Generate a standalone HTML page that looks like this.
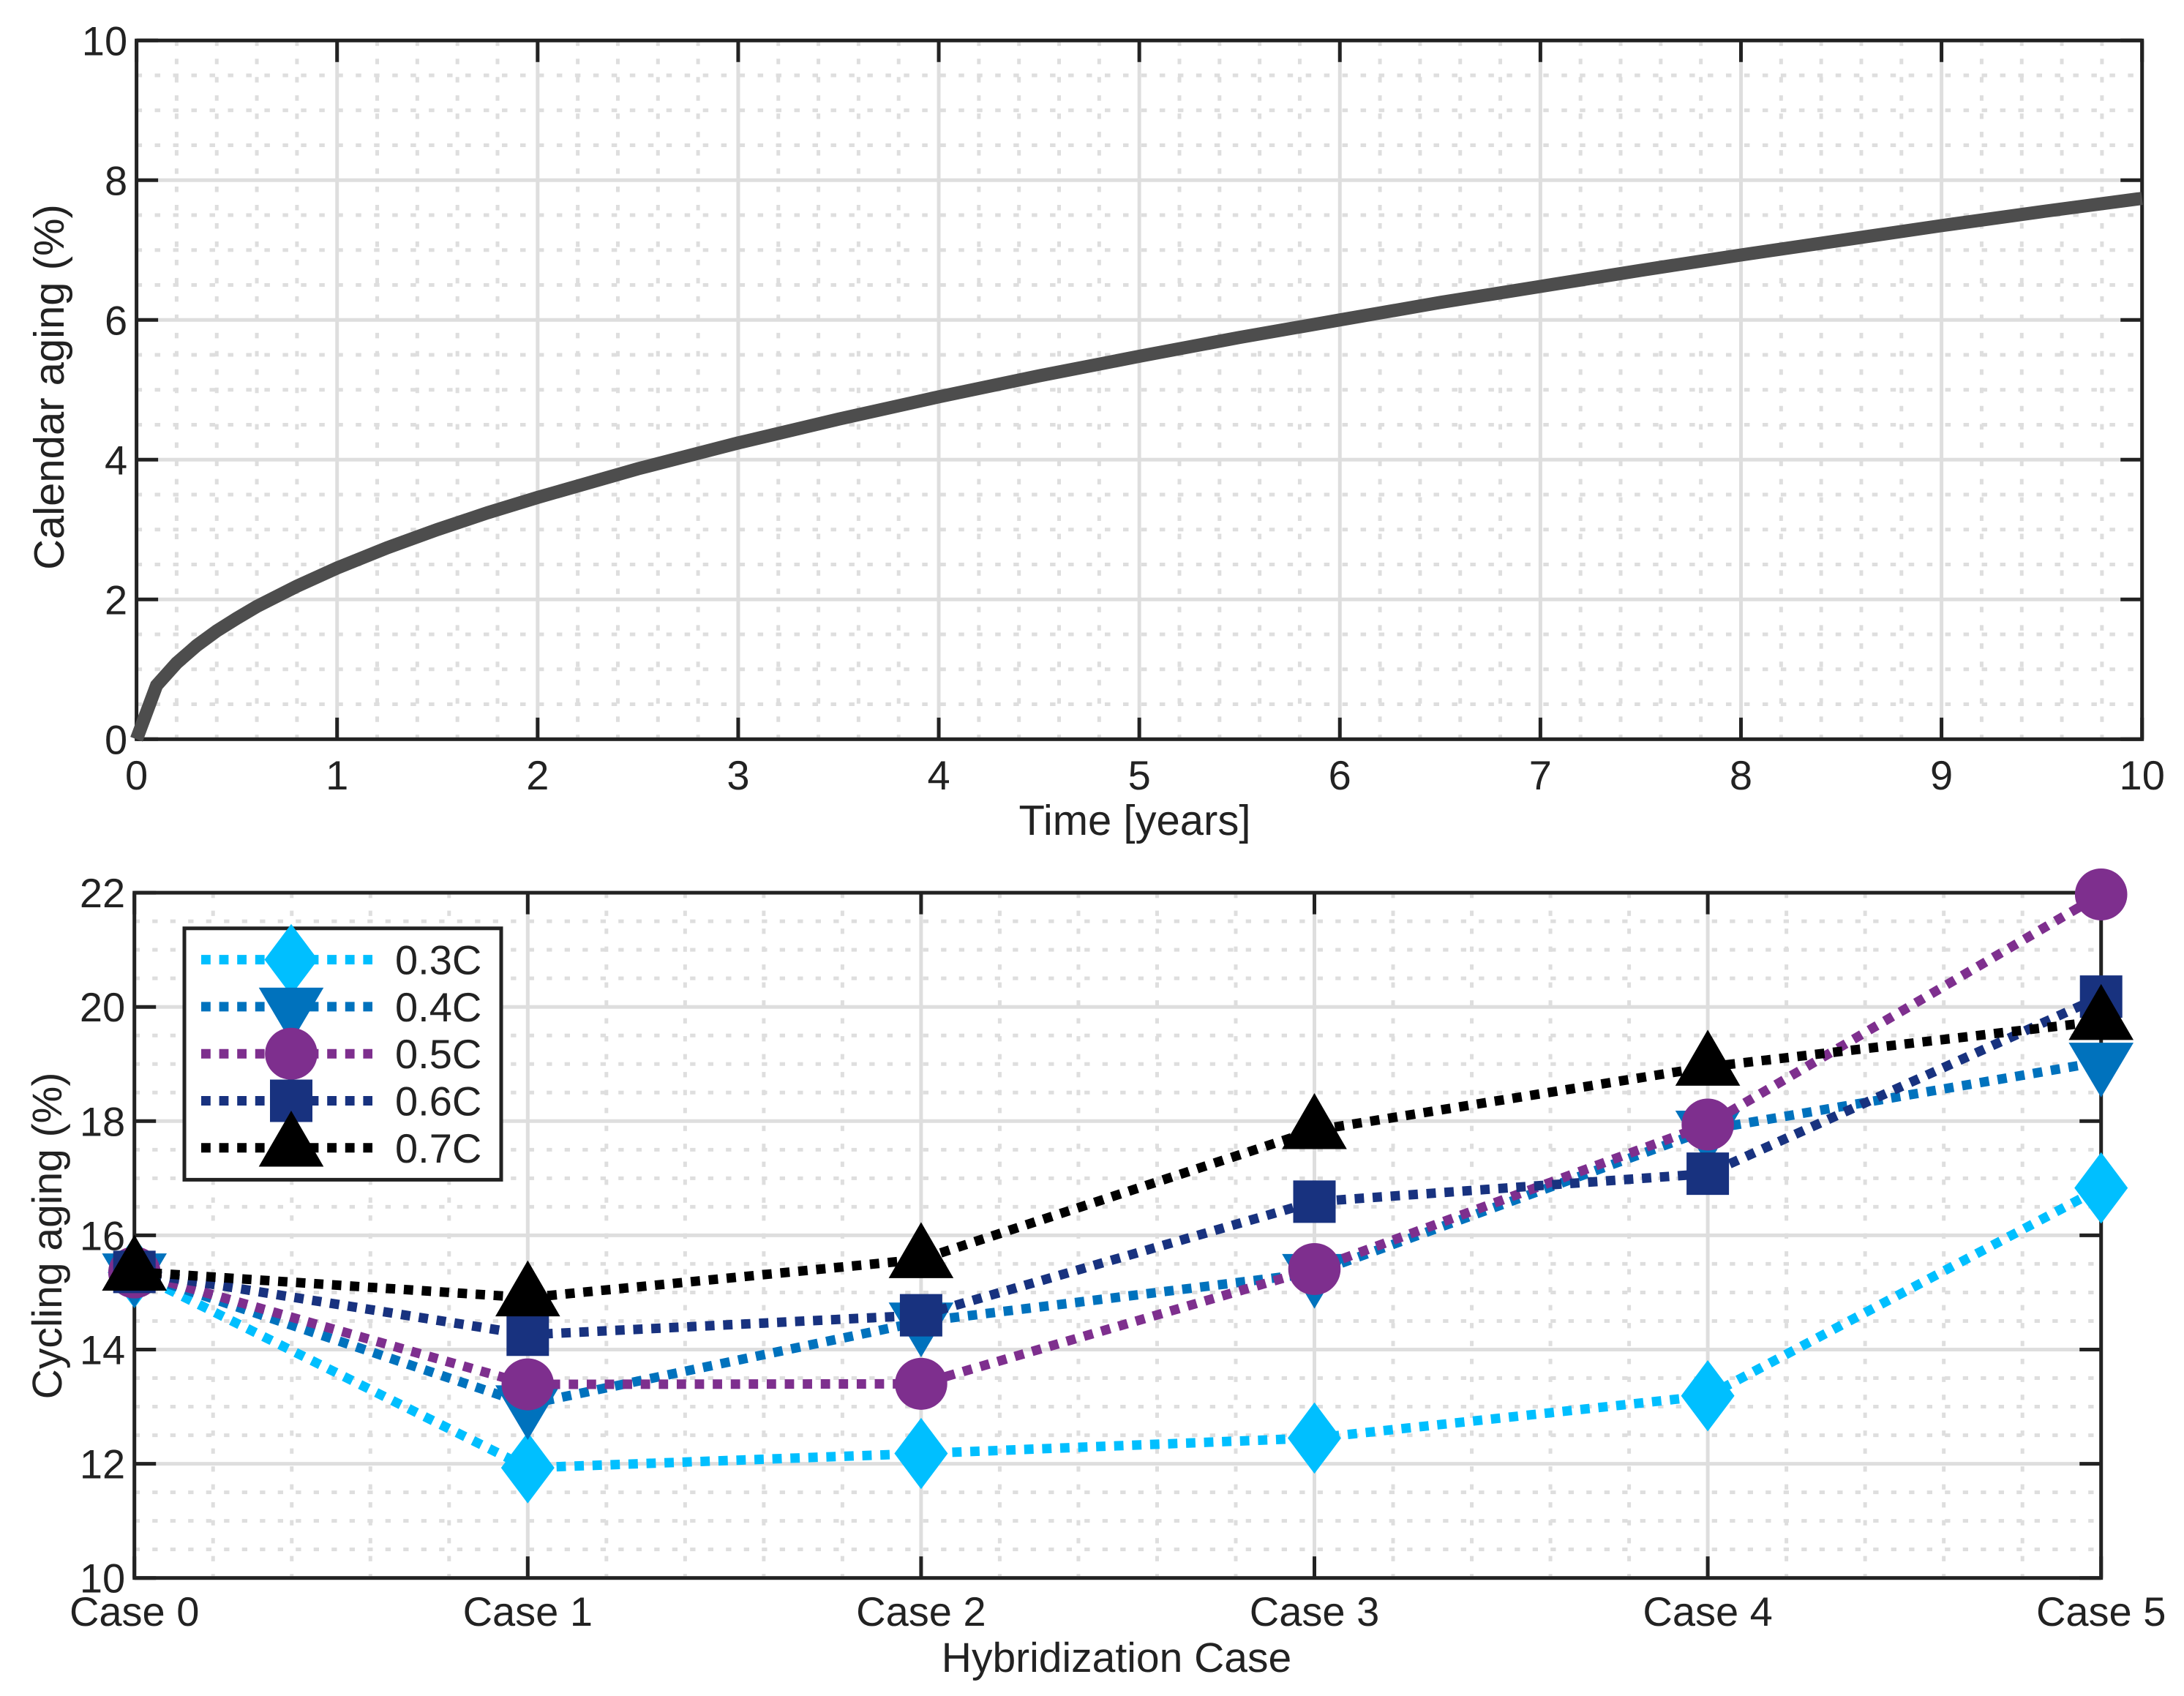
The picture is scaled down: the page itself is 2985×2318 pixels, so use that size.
<!DOCTYPE html>
<html lang="en">
<head>
<meta charset="utf-8">
<title>Calendar and cycling aging</title>
<style>
html,body{margin:0;padding:0;background:#fff;}
svg{display:block;}
text{font-family:"Liberation Sans",Arial,sans-serif;fill:#222;text-rendering:geometricPrecision;}
.tick{font-size:56px;}
.label{font-size:58px;}
.label-small{font-size:57px;}
</style>
</head>
<body>
<svg id="chart" xmlns="http://www.w3.org/2000/svg" width="2985" height="2318" viewBox="0 0 2985 2318">
  <rect x="0" y="0" width="2985" height="2318" fill="#fff"/>
  <g id="top-axes"></g>
  <g id="bottom-axes"></g>
  <text class="label" x="1551" y="1141" text-anchor="middle">Time [years]</text>
  <text class="label" transform="translate(87 529) rotate(-90)" text-anchor="middle">Calendar aging (%)</text>
  <text class="label-small" x="1526" y="2285" text-anchor="middle">Hybridization Case</text>
  <text class="label-small" transform="translate(84 1689) rotate(-90)" text-anchor="middle">Cycling aging (%)</text>
</svg>
<script>
// ---- Chart data ----
const timeYears = [0, 0.1, 0.2, 0.3, 0.4, 0.5, 0.6, 0.8, 1, 1.25, 1.5, 1.75, 2, 2.5, 3, 3.5, 4, 4.5, 5, 5.5, 6, 6.5, 7, 7.5, 8, 8.5, 9, 9.5, 10];
const calendarAging = [0, 0.77, 1.09, 1.34, 1.55, 1.73, 1.90, 2.19, 2.45, 2.74, 3.00, 3.24, 3.46, 3.87, 4.24, 4.58, 4.90, 5.20, 5.48, 5.75, 6.00, 6.25, 6.48, 6.71, 6.93, 7.14, 7.35, 7.55, 7.74];
const topXTicks = [0, 1, 2, 3, 4, 5, 6, 7, 8, 9, 10];
const topYTicks = [0, 2, 4, 6, 8, 10];

const caseLabels = ["Case 0", "Case 1", "Case 2", "Case 3", "Case 4", "Case 5"];
const bottomYTicks = [10, 12, 14, 16, 18, 20, 22];
const seriesNames = ["0.3C", "0.4C", "0.5C", "0.6C", "0.7C"];
const seriesColors = ["#00BFFF", "#0072BD", "#7E2F8E", "#18327F", "#000000"];
const seriesMarkers = ["diamond", "down", "circle", "square", "up"];
const aging03C = [15.35, 11.93, 12.18, 12.45, 13.19, 16.83];
const aging04C = [15.35, 13.04, 14.49, 15.34, 17.85, 19.04];
const aging05C = [15.35, 13.39, 13.40, 15.41, 17.94, 21.97];
const aging06C = [15.36, 14.26, 14.60, 16.59, 17.08, 20.18];
const aging07C = [15.36, 14.91, 15.58, 17.84, 18.95, 19.75];

// ---- Helpers ----
const NS = "http://www.w3.org/2000/svg";
const AXIS = "#222222", GRID = "#dedede";
function node(parent, tag, attrs) {
  const el = document.createElementNS(NS, tag);
  for (const k in attrs) el.setAttribute(k, attrs[k]);
  parent.appendChild(el);
  return el;
}
function hline(g, x1, x2, y, color, w, dash) {
  const a = {x1: x1, x2: x2, y1: y, y2: y, stroke: color, "stroke-width": w};
  if (dash) a["stroke-dasharray"] = dash;
  return node(g, "line", a);
}
function vline(g, x, y1, y2, color, w, dash) {
  const a = {x1: x, x2: x, y1: y1, y2: y2, stroke: color, "stroke-width": w};
  if (dash) a["stroke-dasharray"] = dash;
  return node(g, "line", a);
}
function marker(g, kind, cx, cy, color) {
  let el;
  if (kind === "circle") {
    el = node(g, "ellipse", {cx: cx, cy: cy, rx: 35.8, ry: 35.5, fill: color});
  } else {
    let pts;
    if (kind === "diamond") pts = [[0,-48.7],[36.5,0],[0,48.7],[-36.5,0]];
    if (kind === "down") pts = [[-44.3,-26],[44.3,-26],[0,48.7]];
    if (kind === "up") pts = [[-44.3,25.7],[44.3,25.7],[0,-50.8]];
    if (kind === "square") pts = [[-29,-29],[29,-29],[29,29],[-29,29]];
    el = node(g, "polygon", {points: pts.map(p => (cx + p[0]) + "," + (cy + p[1])).join(" "), fill: color});
  }
  return el;
}

// ---- Axes frame, grid, ticks ----
function drawAxes(g, opt) {
  const L = opt.left, R = opt.right, T = opt.top, B = opt.bottom;
  const minorDash = opt.dash;
  // minor grid
  opt.xMinor.forEach(function (v) {
    const el = vline(g, opt.x(v), T, B, GRID, 5, minorDash);
    
    
  });
  opt.yMinor.forEach(function (v) {
    const el = hline(g, L, R, opt.y(v), GRID, 5, minorDash);
    
    
  });
  // major grid
  opt.xTicks.forEach(function (v) {
    const el = vline(g, opt.x(v), T, B, GRID, 5);
    
    
  });
  opt.yTicks.forEach(function (v) {
    const el = hline(g, L, R, opt.y(v), GRID, 5);
    
    
  });
  // ticks
  const len = 29.5;
  opt.xTicks.forEach(function (v) {
    const px = opt.x(v);
    const a = vline(g, px, B, B - len, AXIS, 5);
    
    
    const b = vline(g, px, T, T + len, AXIS, 5);
    
    
  });
  opt.yTicks.forEach(function (v) {
    const py = opt.y(v);
    const a = hline(g, L, L + len, py, AXIS, 5);
    
    
    const b = hline(g, R, R - len, py, AXIS, 5);
    
    
  });
  // frame
  const frame = node(g, "rect", {x: L, y: T, width: R - L, height: B - T, fill: "none", stroke: AXIS, "stroke-width": 5});
  
  
  // tick labels
  opt.xTicks.forEach(function (v, i) {
    const t = node(g, "text", {class: "tick", x: opt.x(v), y: opt.xLabelY, "text-anchor": "middle"});
    t.textContent = opt.xLabels[i];
    
    
  });
  opt.yTicks.forEach(function (v) {
    const t = node(g, "text", {class: "tick", x: L - 12.5, y: opt.y(v) + 20, "text-anchor": "end"});
    t.textContent = String(v);
    
    
  });
}

// ---- Top chart ----
const topG = document.getElementById("top-axes");
const xTop = v => 186.6 + (v / 10) * 2741.1;
const yTop = v => 1010.3 - (v / 10) * 955;
const topXMinor = [], topYMinor = [];
for (let i = 1; i < 50; i++) if (i % 5) topXMinor.push(i / 5);
for (let i = 1; i < 20; i++) if (i % 4) topYMinor.push(i / 2);
drawAxes(topG, {
  left: 186.6, right: 2927.7, top: 55.3, bottom: 1010.3,
  x: xTop, y: yTop, xTicks: topXTicks, yTicks: topYTicks,
  xLabels: topXTicks.map(String), xMinor: topXMinor, yMinor: topYMinor,
  dash: "7.5 17.47", xLabelY: 1079
});
const curve = node(topG, "polyline", {
  points: timeYears.map((t, i) => xTop(t) + "," + yTop(calendarAging[i])).join(" "),
  fill: "none", stroke: "#4d4d4d", "stroke-width": 18, "stroke-linejoin": "miter"
});



// ---- Bottom chart ----
const botG = document.getElementById("bottom-axes");
const xBot = v => 183.7 + v * 537.6;
const yBot = v => 2156.7 - (v - 10) * 78.05;
const caseIndex = caseLabels.map((_, i) => i);
const botXMinor = [], botYMinor = [];
for (let i = 1; i < 25; i++) if (i % 5) botXMinor.push(i / 5);
for (let i = 1; i < 24; i++) if (i % 4) botYMinor.push(10 + i / 2);
drawAxes(botG, {
  left: 183.7, right: 2871.7, top: 1220.1, bottom: 2156.7,
  x: xBot, y: yBot, xTicks: caseIndex, yTicks: bottomYTicks,
  xLabels: caseLabels, xMinor: botXMinor, yMinor: botYMinor,
  dash: "7.3 17.2", xLabelY: 2222
});

const seriesValues = [aging03C, aging04C, aging05C, aging06C, aging07C];
const seriesDash = "12.8 11.8";
seriesValues.forEach(function (vals, s) {
  const sg = node(botG, "g", {});
  
  
  const line = node(sg, "polyline", {
    points: vals.map((v, i) => xBot(i) + "," + yBot(v)).join(" "),
    fill: "none", stroke: seriesColors[s], "stroke-width": 13, "stroke-dasharray": seriesDash
  });
  
  
  vals.forEach(function (v, i) {
    const m = marker(sg, seriesMarkers[s], xBot(i), yBot(v), seriesColors[s]);
    
    
  });
});

// ---- Legend ----
const legend = node(botG, "g", {});


const legendBox = node(legend, "rect", {x: 252, y: 1268.8, width: 433, height: 343.6, fill: "#fff", stroke: AXIS, "stroke-width": 5});


seriesNames.forEach(function (name, s) {
  const rowY = 1311.6 + s * 64.3;
  const entry = node(legend, "g", {});
  
  
  const sample = hline(entry, 275, 509, rowY, seriesColors[s], 13, seriesDash);
  
  
  const mk = marker(entry, seriesMarkers[s], 398, rowY, seriesColors[s]);
  
  
  const lbl = node(entry, "text", {class: "tick", x: 540, y: rowY + 20});
  lbl.textContent = name;
  
  
});
</script>
</body>
</html>
